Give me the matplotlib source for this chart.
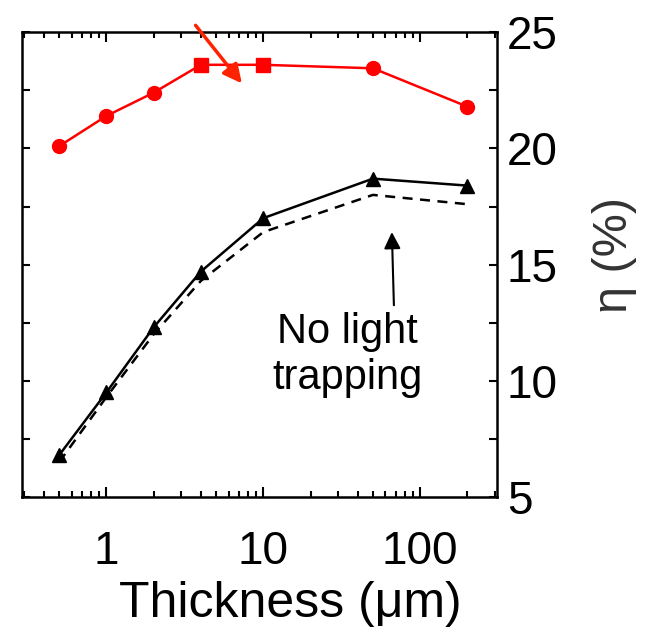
import matplotlib.pyplot as plt

plt.rcParams['font.family'] = ['Liberation Sans', 'DejaVu Sans']

# data
thick = [0.5, 1, 2, 4, 10, 50, 200]
eta_red = [20.1, 21.4, 22.4, 23.6, 23.6, 23.45, 21.8]
eta_black = [6.8, 9.5, 12.3, 14.7, 17.0, 18.7, 18.4]
eta_dashed = [6.5, 9.3, 12.0, 14.3, 16.4, 18.0, 17.6]
red_markers = ['o', 'o', 'o', 's', 's', 'o', 'o']

fig = plt.figure(figsize=(6.5, 6.33), dpi=100)
ax = fig.add_axes([0.034, 0.215, 0.731, 0.734])

red = '#ff0000'
ax.plot(thick, eta_red, color=red, lw=1.8)
for x, y, m in zip(thick, eta_red, red_markers):
    ax.plot(x, y, marker=m, color=red, ms=10, ls='none')

ax.plot(thick, eta_black, color='black', lw=1.8, marker='^', ms=10)
ax.plot(thick, eta_dashed, color='black', lw=1.8, ls=(0, (4, 3)))

ax.set_xscale('log')
ax.set_xlim(0.29, 310)
ax.set_ylim(5, 25)
ax.set_yticks([5, 7.5, 10, 12.5, 15, 17.5, 20, 22.5, 25])
ax.set_yticklabels(['5', '', '10', '', '15', '', '20', '', '25'])
ax.set_xticks([1, 10, 100])
ax.set_xticklabels(['1', '10', '100'])

ax.yaxis.tick_right()
ax.yaxis.set_label_position('right')
ax.tick_params(axis='both', which='both', direction='in', top=True, bottom=True,
               left=True, right=True, width=1.5, labelsize=33)
ax.tick_params(axis='y', length=6, pad=7)
ax.tick_params(axis='x', which='major', length=7, pad=24)
ax.tick_params(axis='x', which='minor', length=4)
for s in ax.spines.values():
    s.set_linewidth(1.8)

ax.set_xlabel('Thickness (μm)', fontsize=36)
ax.xaxis.set_label_coords(0.564, -0.18)
ax.set_ylabel('η (%)', fontsize=35, color='#333333', rotation=90)
ax.yaxis.set_label_coords(1.20, 0.52)

# arrows and text
ax.annotate('', xy=(7.3, 22.8), xytext=(3.7, 25.3), annotation_clip=False,
            arrowprops=dict(arrowstyle='-|>', color='#ff2200', lw=2.5,
                            mutation_scale=28, shrinkA=0, shrinkB=0))
ax.annotate('', xy=(66, 16.4), xytext=(68, 13.25),
            arrowprops=dict(arrowstyle='-|>', color='black', lw=1.5,
                            mutation_scale=25, shrinkA=0, shrinkB=0))
ax.text(34.5, 11.1, 'No light\ntrapping', fontsize=30, ha='center', va='center')

fig.savefig('out.png', dpi=100)
